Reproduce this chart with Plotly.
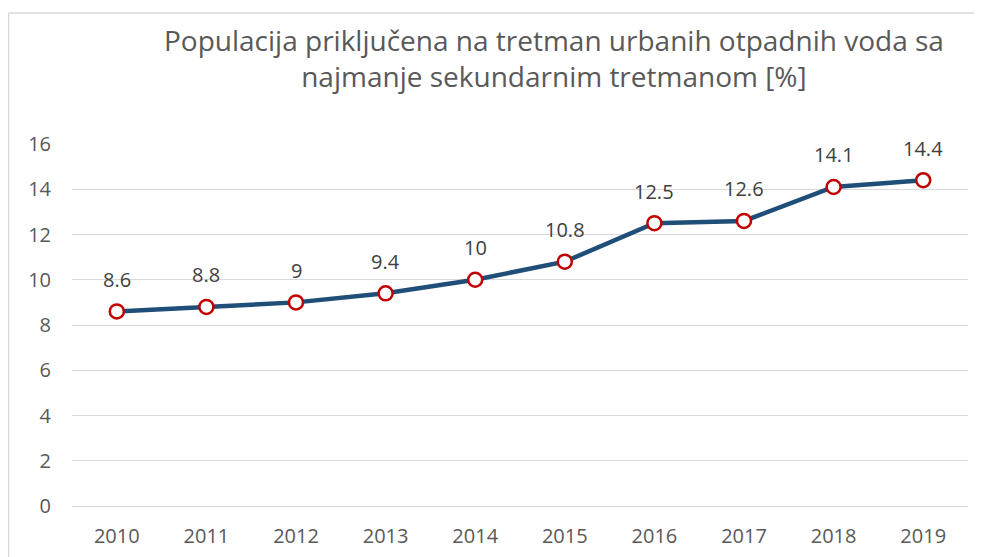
import plotly.graph_objects as go

years = ["2010", "2011", "2012", "2013", "2014", "2015", "2016", "2017", "2018", "2019"]
values = [8.6, 8.8, 9, 9.4, 10, 10.8, 12.5, 12.6, 14.1, 14.4]
value_labels = ["8.6", "8.8", "9", "9.4", "10", "10.8", "12.5", "12.6", "14.1", "14.4"]
y_ticks = [0, 2, 4, 6, 8, 10, 12, 14, 16]

# page has an 8px body margin; compensate
OFF = 8
W, H = 982 - OFF, 557 - OFF
L, R, T, B = 72 - OFF, 14, 144 - OFF, 51

FONT = "Open Sans, sans-serif"

fig = go.Figure()
fig.add_trace(go.Scatter(
    x=years, y=values, mode="lines+markers",
    line=dict(color="#1f4e79", width=4.5),
    marker=dict(size=14, color="white", line=dict(color="#c00000", width=2.5)),
    hoverinfo="skip", showlegend=False,
))

for i, (yv, t) in enumerate(zip(values, value_labels)):
    fig.add_annotation(x=i, y=yv, text=t, showarrow=False, yshift=32,
                       font=dict(family=FONT, size=20, color="#404040"))

pw = W - L - R
ph = H - T - B
def sx(px):
    return (px - OFF - L) / pw
def sy(py):
    return (H - B - (py - OFF)) / ph

fig.add_shape(type="line", xref="paper", yref="paper",
              x0=sx(8.5), x1=sx(8.5), y0=sy(13), y1=sy(620),
              line=dict(color="#d9d9d9", width=1.5))
fig.add_shape(type="line", xref="paper", yref="paper",
              x0=sx(8.5), x1=sx(1000), y0=sy(13), y1=sy(13),
              line=dict(color="#d9d9d9", width=1.5))

fig.add_annotation(
    xref="paper", yref="paper",
    x=sx(554), y=sy(58),
    xanchor="center", yanchor="middle", showarrow=False,
    text="Populacija priključena na tretman urbanih otpadnih voda sa<br>najmanje sekundarnim tretmanom [%]",
    font=dict(family=FONT, size=28, color="#595959"),
    align="center",
)

fig.update_layout(
    width=W, height=H,
    margin=dict(l=L, r=R, t=T, b=B),
    paper_bgcolor="white", plot_bgcolor="white",
    font=dict(family=FONT, color="#595959"),
    xaxis=dict(type="category", range=[-0.5, 9.5], showgrid=False, showline=False,
               automargin=False, ticks="", ticklabelstandoff=16,
               tickfont=dict(size=20, color="#595959")),
    yaxis=dict(range=[0, 16], tickvals=y_ticks, showgrid=True, gridcolor="#d9d9d9",
               gridwidth=1, zeroline=True, zerolinecolor="#d9d9d9", zerolinewidth=1,
               showline=False, automargin=False, ticks="", ticklabelstandoff=20,
               tickfont=dict(size=20, color="#595959")),
)

fig.write_html("out.html")
